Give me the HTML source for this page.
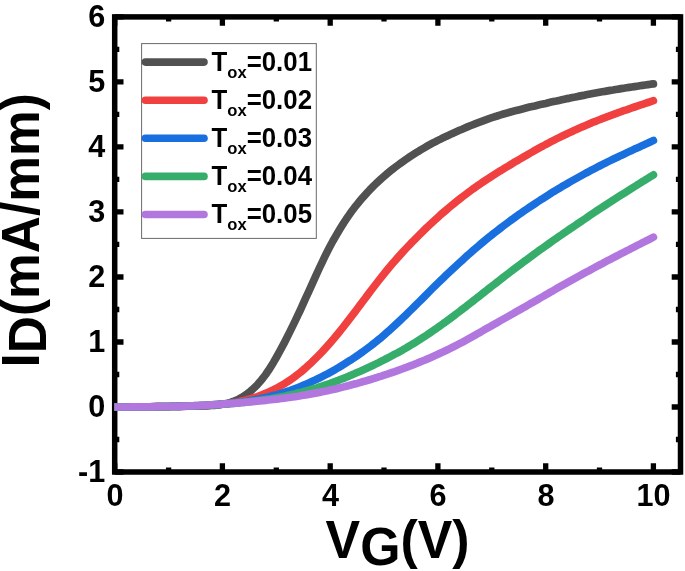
<!DOCTYPE html>
<html><head><meta charset="utf-8"><title>ID-VG</title>
<style>html,body{margin:0;padding:0;background:#fff}svg{display:block}text{font-family:"Liberation Sans",Arial,Helvetica,sans-serif;font-weight:bold;fill:#000}</style></head><body>
<svg width="685" height="571" viewBox="0 0 685 571">
<rect width="685" height="571" fill="#fff"/>
<defs><clipPath id="c"><rect x="114.4" y="16.9" width="566.1" height="455.1"/></clipPath></defs>
<path d="M114.7,472.0v-8.8M114.7,16.9v8.8M168.6,472.0v-4.6M168.6,16.9v4.6M222.4,472.0v-8.8M222.4,16.9v8.8M276.3,472.0v-4.6M276.3,16.9v4.6M330.2,472.0v-8.8M330.2,16.9v8.8M384.0,472.0v-4.6M384.0,16.9v4.6M437.9,472.0v-8.8M437.9,16.9v8.8M491.8,472.0v-4.6M491.8,16.9v4.6M545.7,472.0v-8.8M545.7,16.9v8.8M599.5,472.0v-4.6M599.5,16.9v4.6M653.4,472.0v-8.8M653.4,16.9v8.8M114.7,472.0h8.8M680.5,472.0h-8.8M114.7,439.5h4.6M680.5,439.5h-4.6M114.7,407.0h8.8M680.5,407.0h-8.8M114.7,374.5h4.6M680.5,374.5h-4.6M114.7,342.0h8.8M680.5,342.0h-8.8M114.7,309.5h4.6M680.5,309.5h-4.6M114.7,277.0h8.8M680.5,277.0h-8.8M114.7,244.4h4.6M680.5,244.4h-4.6M114.7,211.9h8.8M680.5,211.9h-8.8M114.7,179.4h4.6M680.5,179.4h-4.6M114.7,146.9h8.8M680.5,146.9h-8.8M114.7,114.4h4.6M680.5,114.4h-4.6M114.7,81.9h8.8M680.5,81.9h-8.8M114.7,49.4h4.6M680.5,49.4h-4.6M114.7,16.9h8.8M680.5,16.9h-8.8" stroke="#000" stroke-width="5.3" fill="none"/>
<rect x="114.7" y="16.9" width="565.8" height="455.1" fill="none" stroke="#000" stroke-width="5.5"/>
<g clip-path="url(#c)" fill="none" stroke-width="7.7" stroke-linecap="round" stroke-linejoin="round">
<path d="M114.7,407.0 L117.4,407.0 L120.1,407.0 L122.8,407.0 L125.5,407.0 L128.2,406.9 L130.9,406.9 L133.6,406.9 L136.2,406.9 L138.9,406.9 L141.6,406.8 L144.3,406.8 L147.0,406.8 L149.7,406.8 L152.4,406.7 L155.1,406.7 L157.8,406.6 L160.5,406.6 L163.2,406.6 L165.9,406.5 L168.6,406.5 L171.3,406.4 L174.0,406.4 L176.7,406.3 L179.3,406.3 L182.0,406.2 L184.7,406.1 L187.4,406.1 L190.1,406.1 L192.8,406.0 L195.5,406.0 L198.2,405.9 L200.9,405.9 L203.6,405.8 L206.3,405.8 L209.0,405.6 L211.7,405.5 L214.4,405.3 L217.1,405.0 L219.7,404.7 L222.4,404.3 L225.1,403.8 L227.8,403.2 L230.5,402.4 L233.2,401.5 L235.9,400.4 L238.6,399.2 L241.3,397.7 L244.0,396.0 L246.7,394.2 L249.4,392.1 L252.1,389.8 L254.8,387.3 L257.5,384.6 L260.1,381.6 L262.8,378.3 L265.5,374.7 L268.2,370.8 L270.9,366.6 L273.6,362.2 L276.3,357.5 L279.0,352.7 L281.7,347.7 L284.4,342.6 L287.1,337.3 L289.8,331.9 L292.5,326.4 L295.2,320.9 L297.9,315.2 L300.6,309.5 L303.2,303.6 L305.9,297.7 L308.6,291.8 L311.3,285.8 L314.0,279.8 L316.7,273.9 L319.4,268.0 L322.1,262.3 L324.8,256.6 L327.5,251.2 L330.2,246.0 L332.9,241.0 L335.6,236.3 L338.3,231.7 L341.0,227.3 L343.6,223.1 L346.3,219.0 L349.0,215.1 L351.7,211.3 L354.4,207.7 L357.1,204.3 L359.8,201.0 L362.5,197.8 L365.2,194.8 L367.9,191.8 L370.6,189.0 L373.3,186.3 L376.0,183.6 L378.7,181.1 L381.4,178.6 L384.0,176.3 L386.7,174.0 L389.4,171.8 L392.1,169.6 L394.8,167.5 L397.5,165.5 L400.2,163.5 L402.9,161.6 L405.6,159.7 L408.3,157.8 L411.0,156.0 L413.7,154.3 L416.4,152.6 L419.1,150.9 L421.8,149.3 L424.5,147.7 L427.1,146.2 L429.8,144.7 L432.5,143.2 L435.2,141.8 L437.9,140.4 L440.6,139.1 L443.3,137.7 L446.0,136.4 L448.7,135.2 L451.4,133.9 L454.1,132.7 L456.8,131.5 L459.5,130.3 L462.2,129.2 L464.9,128.0 L467.5,126.9 L470.2,125.8 L472.9,124.7 L475.6,123.6 L478.3,122.6 L481.0,121.6 L483.7,120.6 L486.4,119.6 L489.1,118.6 L491.8,117.7 L494.5,116.8 L497.2,116.0 L499.9,115.1 L502.6,114.3 L505.3,113.5 L508.0,112.8 L510.6,112.0 L513.3,111.3 L516.0,110.6 L518.7,109.9 L521.4,109.2 L524.1,108.5 L526.8,107.8 L529.5,107.1 L532.2,106.5 L534.9,105.9 L537.6,105.2 L540.3,104.6 L543.0,104.0 L545.7,103.4 L548.4,102.7 L551.0,102.1 L553.7,101.5 L556.4,101.0 L559.1,100.4 L561.8,99.8 L564.5,99.2 L567.2,98.6 L569.9,98.1 L572.6,97.5 L575.3,97.0 L578.0,96.4 L580.7,95.9 L583.4,95.4 L586.1,94.8 L588.8,94.3 L591.4,93.8 L594.1,93.3 L596.8,92.8 L599.5,92.3 L602.2,91.8 L604.9,91.4 L607.6,90.9 L610.3,90.4 L613.0,90.0 L615.7,89.5 L618.4,89.1 L621.1,88.6 L623.8,88.2 L626.5,87.8 L629.2,87.4 L631.9,87.0 L634.5,86.6 L637.2,86.2 L639.9,85.8 L642.6,85.4 L645.3,85.0 L648.0,84.6 L650.7,84.2 L653.4,83.9" stroke="#515151"/>
<path d="M114.7,407.0 L117.4,407.0 L120.1,407.0 L122.8,407.0 L125.5,406.9 L128.2,406.9 L130.9,406.9 L133.6,406.9 L136.2,406.9 L138.9,406.9 L141.6,406.8 L144.3,406.8 L147.0,406.8 L149.7,406.8 L152.4,406.8 L155.1,406.7 L157.8,406.7 L160.5,406.7 L163.2,406.6 L165.9,406.6 L168.6,406.6 L171.3,406.5 L174.0,406.5 L176.7,406.4 L179.3,406.4 L182.0,406.3 L184.7,406.3 L187.4,406.2 L190.1,406.1 L192.8,406.1 L195.5,406.0 L198.2,405.9 L200.9,405.7 L203.6,405.6 L206.3,405.5 L209.0,405.3 L211.7,405.1 L214.4,404.9 L217.1,404.7 L219.7,404.4 L222.4,404.1 L225.1,403.8 L227.8,403.5 L230.5,403.1 L233.2,402.6 L235.9,402.2 L238.6,401.7 L241.3,401.1 L244.0,400.5 L246.7,399.8 L249.4,399.1 L252.1,398.3 L254.8,397.5 L257.5,396.6 L260.1,395.6 L262.8,394.5 L265.5,393.4 L268.2,392.3 L270.9,391.0 L273.6,389.7 L276.3,388.3 L279.0,386.9 L281.7,385.3 L284.4,383.7 L287.1,382.0 L289.8,380.2 L292.5,378.4 L295.2,376.4 L297.9,374.3 L300.6,372.2 L303.2,370.0 L305.9,367.6 L308.6,365.2 L311.3,362.7 L314.0,360.1 L316.7,357.4 L319.4,354.6 L322.1,351.8 L324.8,348.8 L327.5,345.8 L330.2,342.8 L332.9,339.7 L335.6,336.5 L338.3,333.2 L341.0,329.9 L343.6,326.6 L346.3,323.2 L349.0,319.7 L351.7,316.2 L354.4,312.6 L357.1,309.0 L359.8,305.4 L362.5,301.8 L365.2,298.2 L367.9,294.6 L370.6,291.0 L373.3,287.5 L376.0,284.0 L378.7,280.5 L381.4,277.1 L384.0,273.8 L386.7,270.5 L389.4,267.3 L392.1,264.1 L394.8,261.0 L397.5,257.9 L400.2,254.9 L402.9,251.9 L405.6,249.0 L408.3,246.2 L411.0,243.3 L413.7,240.6 L416.4,237.8 L419.1,235.1 L421.8,232.5 L424.5,229.8 L427.1,227.2 L429.8,224.7 L432.5,222.2 L435.2,219.7 L437.9,217.3 L440.6,214.8 L443.3,212.5 L446.0,210.2 L448.7,207.9 L451.4,205.6 L454.1,203.4 L456.8,201.2 L459.5,199.1 L462.2,197.0 L464.9,195.0 L467.5,193.0 L470.2,191.0 L472.9,189.0 L475.6,187.1 L478.3,185.2 L481.0,183.4 L483.7,181.5 L486.4,179.7 L489.1,178.0 L491.8,176.2 L494.5,174.5 L497.2,172.8 L499.9,171.1 L502.6,169.5 L505.3,167.8 L508.0,166.2 L510.6,164.6 L513.3,162.9 L516.0,161.3 L518.7,159.8 L521.4,158.2 L524.1,156.6 L526.8,155.1 L529.5,153.5 L532.2,152.0 L534.9,150.4 L537.6,148.9 L540.3,147.4 L543.0,146.0 L545.7,144.5 L548.4,143.1 L551.0,141.7 L553.7,140.3 L556.4,138.9 L559.1,137.6 L561.8,136.3 L564.5,135.0 L567.2,133.7 L569.9,132.4 L572.6,131.2 L575.3,129.9 L578.0,128.7 L580.7,127.5 L583.4,126.4 L586.1,125.2 L588.8,124.1 L591.4,122.9 L594.1,121.8 L596.8,120.8 L599.5,119.7 L602.2,118.6 L604.9,117.6 L607.6,116.6 L610.3,115.6 L613.0,114.6 L615.7,113.6 L618.4,112.6 L621.1,111.7 L623.8,110.7 L626.5,109.8 L629.2,108.8 L631.9,107.9 L634.5,107.0 L637.2,106.1 L639.9,105.2 L642.6,104.3 L645.3,103.4 L648.0,102.5 L650.7,101.6 L653.4,100.7" stroke="#F14040"/>
<path d="M114.7,407.0 L117.4,407.0 L120.1,407.0 L122.8,407.0 L125.5,407.0 L128.2,407.0 L130.9,407.0 L133.6,406.9 L136.2,406.9 L138.9,406.9 L141.6,406.9 L144.3,406.9 L147.0,406.9 L149.7,406.8 L152.4,406.8 L155.1,406.8 L157.8,406.7 L160.5,406.7 L163.2,406.7 L165.9,406.6 L168.6,406.6 L171.3,406.5 L174.0,406.5 L176.7,406.4 L179.3,406.4 L182.0,406.3 L184.7,406.2 L187.4,406.2 L190.1,406.1 L192.8,406.0 L195.5,405.9 L198.2,405.8 L200.9,405.6 L203.6,405.5 L206.3,405.3 L209.0,405.2 L211.7,405.0 L214.4,404.8 L217.1,404.6 L219.7,404.4 L222.4,404.2 L225.1,403.9 L227.8,403.7 L230.5,403.4 L233.2,403.1 L235.9,402.8 L238.6,402.4 L241.3,402.1 L244.0,401.7 L246.7,401.3 L249.4,400.8 L252.1,400.4 L254.8,399.9 L257.5,399.4 L260.1,398.8 L262.8,398.2 L265.5,397.6 L268.2,397.0 L270.9,396.3 L273.6,395.6 L276.3,394.9 L279.0,394.1 L281.7,393.3 L284.4,392.4 L287.1,391.5 L289.8,390.6 L292.5,389.6 L295.2,388.6 L297.9,387.6 L300.6,386.5 L303.2,385.4 L305.9,384.2 L308.6,383.1 L311.3,381.8 L314.0,380.6 L316.7,379.3 L319.4,378.0 L322.1,376.6 L324.8,375.2 L327.5,373.8 L330.2,372.3 L332.9,370.8 L335.6,369.3 L338.3,367.7 L341.0,366.1 L343.6,364.5 L346.3,362.8 L349.0,361.1 L351.7,359.4 L354.4,357.6 L357.1,355.8 L359.8,353.9 L362.5,352.0 L365.2,350.0 L367.9,348.0 L370.6,346.0 L373.3,343.9 L376.0,341.8 L378.7,339.6 L381.4,337.4 L384.0,335.1 L386.7,332.7 L389.4,330.3 L392.1,327.9 L394.8,325.4 L397.5,322.9 L400.2,320.4 L402.9,317.8 L405.6,315.2 L408.3,312.6 L411.0,309.9 L413.7,307.2 L416.4,304.6 L419.1,301.9 L421.8,299.2 L424.5,296.5 L427.1,293.8 L429.8,291.1 L432.5,288.4 L435.2,285.8 L437.9,283.1 L440.6,280.5 L443.3,277.9 L446.0,275.3 L448.7,272.8 L451.4,270.2 L454.1,267.7 L456.8,265.2 L459.5,262.7 L462.2,260.3 L464.9,257.8 L467.5,255.4 L470.2,253.1 L472.9,250.7 L475.6,248.4 L478.3,246.1 L481.0,243.8 L483.7,241.5 L486.4,239.3 L489.1,237.1 L491.8,234.9 L494.5,232.8 L497.2,230.7 L499.9,228.6 L502.6,226.5 L505.3,224.5 L508.0,222.5 L510.6,220.5 L513.3,218.6 L516.0,216.6 L518.7,214.7 L521.4,212.8 L524.1,210.9 L526.8,209.1 L529.5,207.3 L532.2,205.5 L534.9,203.7 L537.6,201.9 L540.3,200.1 L543.0,198.4 L545.7,196.7 L548.4,195.0 L551.0,193.3 L553.7,191.6 L556.4,190.0 L559.1,188.4 L561.8,186.7 L564.5,185.2 L567.2,183.6 L569.9,182.0 L572.6,180.5 L575.3,179.0 L578.0,177.5 L580.7,176.0 L583.4,174.5 L586.1,173.0 L588.8,171.6 L591.4,170.2 L594.1,168.8 L596.8,167.4 L599.5,166.0 L602.2,164.6 L604.9,163.3 L607.6,161.9 L610.3,160.6 L613.0,159.3 L615.7,158.0 L618.4,156.7 L621.1,155.4 L623.8,154.2 L626.5,152.9 L629.2,151.6 L631.9,150.4 L634.5,149.1 L637.2,147.9 L639.9,146.7 L642.6,145.4 L645.3,144.2 L648.0,143.0 L650.7,141.7 L653.4,140.5" stroke="#1A6FDF"/>
<path d="M114.7,407.1 L117.4,407.1 L120.1,407.1 L122.8,407.0 L125.5,407.0 L128.2,407.0 L130.9,407.0 L133.6,407.0 L136.2,406.9 L138.9,406.9 L141.6,406.9 L144.3,406.9 L147.0,406.8 L149.7,406.8 L152.4,406.8 L155.1,406.8 L157.8,406.7 L160.5,406.7 L163.2,406.6 L165.9,406.6 L168.6,406.5 L171.3,406.5 L174.0,406.4 L176.7,406.3 L179.3,406.3 L182.0,406.2 L184.7,406.1 L187.4,406.0 L190.1,405.9 L192.8,405.8 L195.5,405.7 L198.2,405.6 L200.9,405.5 L203.6,405.4 L206.3,405.2 L209.0,405.1 L211.7,404.9 L214.4,404.7 L217.1,404.6 L219.7,404.4 L222.4,404.2 L225.1,404.0 L227.8,403.8 L230.5,403.5 L233.2,403.3 L235.9,403.1 L238.6,402.8 L241.3,402.5 L244.0,402.3 L246.7,402.0 L249.4,401.7 L252.1,401.3 L254.8,401.0 L257.5,400.7 L260.1,400.3 L262.8,399.9 L265.5,399.5 L268.2,399.1 L270.9,398.7 L273.6,398.2 L276.3,397.7 L279.0,397.2 L281.7,396.7 L284.4,396.2 L287.1,395.6 L289.8,395.0 L292.5,394.4 L295.2,393.8 L297.9,393.1 L300.6,392.5 L303.2,391.8 L305.9,391.0 L308.6,390.3 L311.3,389.5 L314.0,388.7 L316.7,387.9 L319.4,387.0 L322.1,386.1 L324.8,385.2 L327.5,384.3 L330.2,383.4 L332.9,382.4 L335.6,381.4 L338.3,380.4 L341.0,379.3 L343.6,378.3 L346.3,377.2 L349.0,376.1 L351.7,374.9 L354.4,373.8 L357.1,372.6 L359.8,371.4 L362.5,370.2 L365.2,369.0 L367.9,367.7 L370.6,366.5 L373.3,365.2 L376.0,363.9 L378.7,362.6 L381.4,361.2 L384.0,359.9 L386.7,358.5 L389.4,357.1 L392.1,355.7 L394.8,354.2 L397.5,352.8 L400.2,351.3 L402.9,349.8 L405.6,348.2 L408.3,346.6 L411.0,345.0 L413.7,343.4 L416.4,341.7 L419.1,340.0 L421.8,338.3 L424.5,336.6 L427.1,334.8 L429.8,333.0 L432.5,331.1 L435.2,329.3 L437.9,327.4 L440.6,325.5 L443.3,323.5 L446.0,321.6 L448.7,319.6 L451.4,317.6 L454.1,315.6 L456.8,313.5 L459.5,311.5 L462.2,309.4 L464.9,307.4 L467.5,305.3 L470.2,303.2 L472.9,301.1 L475.6,299.0 L478.3,296.9 L481.0,294.7 L483.7,292.6 L486.4,290.5 L489.1,288.4 L491.8,286.3 L494.5,284.2 L497.2,282.1 L499.9,280.0 L502.6,277.9 L505.3,275.8 L508.0,273.7 L510.6,271.7 L513.3,269.6 L516.0,267.6 L518.7,265.6 L521.4,263.6 L524.1,261.5 L526.8,259.6 L529.5,257.6 L532.2,255.6 L534.9,253.6 L537.6,251.7 L540.3,249.7 L543.0,247.8 L545.7,245.9 L548.4,244.0 L551.0,242.1 L553.7,240.2 L556.4,238.3 L559.1,236.4 L561.8,234.6 L564.5,232.7 L567.2,230.9 L569.9,229.0 L572.6,227.2 L575.3,225.4 L578.0,223.5 L580.7,221.7 L583.4,219.9 L586.1,218.1 L588.8,216.2 L591.4,214.4 L594.1,212.6 L596.8,210.8 L599.5,209.0 L602.2,207.3 L604.9,205.5 L607.6,203.7 L610.3,202.0 L613.0,200.2 L615.7,198.5 L618.4,196.8 L621.1,195.1 L623.8,193.4 L626.5,191.7 L629.2,190.0 L631.9,188.3 L634.5,186.6 L637.2,184.9 L639.9,183.3 L642.6,181.6 L645.3,179.9 L648.0,178.3 L650.7,176.6 L653.4,174.9" stroke="#37AD6B"/>
<path d="M114.7,407.0 L117.4,407.0 L120.1,407.0 L122.8,407.0 L125.5,407.0 L128.2,407.0 L130.9,406.9 L133.6,406.9 L136.2,406.9 L138.9,406.9 L141.6,406.9 L144.3,406.8 L147.0,406.8 L149.7,406.8 L152.4,406.8 L155.1,406.7 L157.8,406.7 L160.5,406.6 L163.2,406.6 L165.9,406.6 L168.6,406.5 L171.3,406.5 L174.0,406.4 L176.7,406.3 L179.3,406.3 L182.0,406.2 L184.7,406.1 L187.4,406.0 L190.1,405.9 L192.8,405.8 L195.5,405.7 L198.2,405.6 L200.9,405.4 L203.6,405.3 L206.3,405.1 L209.0,405.0 L211.7,404.8 L214.4,404.6 L217.1,404.5 L219.7,404.3 L222.4,404.1 L225.1,403.9 L227.8,403.7 L230.5,403.5 L233.2,403.3 L235.9,403.1 L238.6,402.8 L241.3,402.6 L244.0,402.4 L246.7,402.1 L249.4,401.9 L252.1,401.6 L254.8,401.4 L257.5,401.1 L260.1,400.8 L262.8,400.6 L265.5,400.3 L268.2,400.0 L270.9,399.7 L273.6,399.4 L276.3,399.1 L279.0,398.8 L281.7,398.4 L284.4,398.1 L287.1,397.7 L289.8,397.3 L292.5,397.0 L295.2,396.6 L297.9,396.2 L300.6,395.7 L303.2,395.3 L305.9,394.9 L308.6,394.4 L311.3,393.9 L314.0,393.4 L316.7,392.9 L319.4,392.4 L322.1,391.8 L324.8,391.2 L327.5,390.7 L330.2,390.1 L332.9,389.5 L335.6,388.9 L338.3,388.2 L341.0,387.6 L343.6,386.9 L346.3,386.2 L349.0,385.5 L351.7,384.8 L354.4,384.1 L357.1,383.4 L359.8,382.6 L362.5,381.8 L365.2,381.1 L367.9,380.3 L370.6,379.5 L373.3,378.6 L376.0,377.8 L378.7,376.9 L381.4,376.1 L384.0,375.2 L386.7,374.3 L389.4,373.4 L392.1,372.5 L394.8,371.6 L397.5,370.6 L400.2,369.6 L402.9,368.7 L405.6,367.7 L408.3,366.6 L411.0,365.6 L413.7,364.6 L416.4,363.5 L419.1,362.4 L421.8,361.3 L424.5,360.2 L427.1,359.1 L429.8,357.9 L432.5,356.7 L435.2,355.5 L437.9,354.3 L440.6,353.0 L443.3,351.8 L446.0,350.5 L448.7,349.2 L451.4,347.8 L454.1,346.5 L456.8,345.1 L459.5,343.7 L462.2,342.3 L464.9,340.8 L467.5,339.4 L470.2,337.9 L472.9,336.4 L475.6,334.9 L478.3,333.3 L481.0,331.8 L483.7,330.2 L486.4,328.7 L489.1,327.2 L491.8,325.6 L494.5,324.1 L497.2,322.6 L499.9,321.0 L502.6,319.5 L505.3,318.0 L508.0,316.5 L510.6,315.0 L513.3,313.5 L516.0,311.9 L518.7,310.4 L521.4,308.9 L524.1,307.3 L526.8,305.8 L529.5,304.2 L532.2,302.7 L534.9,301.1 L537.6,299.6 L540.3,298.0 L543.0,296.5 L545.7,294.9 L548.4,293.4 L551.0,291.8 L553.7,290.3 L556.4,288.7 L559.1,287.2 L561.8,285.7 L564.5,284.2 L567.2,282.6 L569.9,281.1 L572.6,279.6 L575.3,278.1 L578.0,276.6 L580.7,275.2 L583.4,273.7 L586.1,272.2 L588.8,270.8 L591.4,269.3 L594.1,267.9 L596.8,266.4 L599.5,265.0 L602.2,263.6 L604.9,262.1 L607.6,260.7 L610.3,259.3 L613.0,257.9 L615.7,256.5 L618.4,255.1 L621.1,253.7 L623.8,252.3 L626.5,250.9 L629.2,249.6 L631.9,248.2 L634.5,246.8 L637.2,245.4 L639.9,244.1 L642.6,242.7 L645.3,241.3 L648.0,240.0 L650.7,238.6 L653.4,237.2" stroke="#B177DE"/>
</g>
<rect x="141.6" y="43.6" width="174.7" height="194.8" fill="#fff" stroke="#6a6a6a" stroke-width="1"/>
<line x1="145.4" y1="62.1" x2="204.0" y2="62.1" stroke="#515151" stroke-width="7.6" stroke-linecap="round"/>
<text transform="translate(211.6,71.0) scale(1,1.040)" font-size="25.8">T<tspan dy="6.8" font-size="16.6">ox</tspan><tspan dy="-6.8" font-size="25.8">=0.01</tspan></text>
<line x1="145.4" y1="100.2" x2="204.0" y2="100.2" stroke="#F14040" stroke-width="7.6" stroke-linecap="round"/>
<text transform="translate(211.6,109.1) scale(1,1.040)" font-size="25.8">T<tspan dy="6.8" font-size="16.6">ox</tspan><tspan dy="-6.8" font-size="25.8">=0.02</tspan></text>
<line x1="145.4" y1="138.3" x2="204.0" y2="138.3" stroke="#1A6FDF" stroke-width="7.6" stroke-linecap="round"/>
<text transform="translate(211.6,147.2) scale(1,1.040)" font-size="25.8">T<tspan dy="6.8" font-size="16.6">ox</tspan><tspan dy="-6.8" font-size="25.8">=0.03</tspan></text>
<line x1="145.4" y1="176.4" x2="204.0" y2="176.4" stroke="#37AD6B" stroke-width="7.6" stroke-linecap="round"/>
<text transform="translate(211.6,185.3) scale(1,1.040)" font-size="25.8">T<tspan dy="6.8" font-size="16.6">ox</tspan><tspan dy="-6.8" font-size="25.8">=0.04</tspan></text>
<line x1="145.4" y1="214.5" x2="204.0" y2="214.5" stroke="#B177DE" stroke-width="7.6" stroke-linecap="round"/>
<text transform="translate(211.6,223.4) scale(1,1.040)" font-size="25.8">T<tspan dy="6.8" font-size="16.6">ox</tspan><tspan dy="-6.8" font-size="25.8">=0.05</tspan></text>
<text transform="translate(114.9,505.7) scale(1,1.035)" font-size="30.6" text-anchor="middle">0</text>
<text transform="translate(222.6,505.7) scale(1,1.035)" font-size="30.6" text-anchor="middle">2</text>
<text transform="translate(330.4,505.7) scale(1,1.035)" font-size="30.6" text-anchor="middle">4</text>
<text transform="translate(438.1,505.7) scale(1,1.035)" font-size="30.6" text-anchor="middle">6</text>
<text transform="translate(545.9,505.7) scale(1,1.035)" font-size="30.6" text-anchor="middle">8</text>
<text transform="translate(653.6,505.7) scale(1,1.035)" font-size="30.6" text-anchor="middle">10</text>
<text transform="translate(105.3,481.8) scale(1,1.035)" font-size="30.6" text-anchor="end">-1</text>
<text transform="translate(105.3,416.8) scale(1,1.035)" font-size="30.6" text-anchor="end">0</text>
<text transform="translate(105.3,351.8) scale(1,1.035)" font-size="30.6" text-anchor="end">1</text>
<text transform="translate(105.3,286.8) scale(1,1.035)" font-size="30.6" text-anchor="end">2</text>
<text transform="translate(105.3,221.7) scale(1,1.035)" font-size="30.6" text-anchor="end">3</text>
<text transform="translate(105.3,156.7) scale(1,1.035)" font-size="30.6" text-anchor="end">4</text>
<text transform="translate(105.3,91.7) scale(1,1.035)" font-size="30.6" text-anchor="end">5</text>
<text transform="translate(105.3,26.7) scale(1,1.035)" font-size="30.6" text-anchor="end">6</text>
<text transform="translate(325.6,557.6) scale(1,1.030)" font-size="51.8">V<tspan dy="6.7">G</tspan><tspan dy="-6.7">(V)</tspan></text>
<text transform="translate(39.2,367.6) rotate(-90) scale(1,1.035)" font-size="51.5">I<tspan dy="6.5">D</tspan><tspan dy="-6.5">(mA/mm)</tspan></text>
</svg></body></html>
